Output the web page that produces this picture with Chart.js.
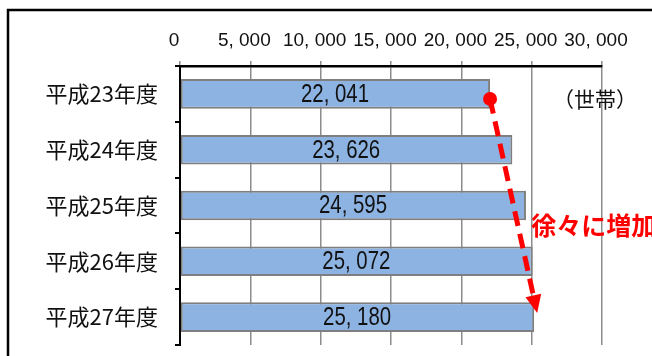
<!DOCTYPE html>
<html lang="ja">
<head>
<meta charset="utf-8">
<script src="https://cdn.jsdelivr.net/npm/chart.js@4/dist/chart.umd.min.js"></script>
<style>
  html, body { margin: 0; padding: 0; background: #fff; }
  canvas { display: block; }
</style>
</head>
<body>
<canvas id="chart" width="652" height="356"></canvas>
<script>
// --- Data ---
const categories = ['平成23年度', '平成24年度', '平成25年度', '平成26年度', '平成27年度'];
const households = [22041, 23626, 24595, 25072, 25180];
const axisMin = 0;
const axisMax = 30000;
const axisStep = 5000;
const unitLabel = '（世帯）';
const trendLabel = '徐々に増加';

const NUM_FONT = '"Liberation Sans Narrow", "Liberation Sans", "Noto Sans CJK JP", sans-serif';
const JP_FONT = '"Noto Sans CJK JP", "Noto Sans", sans-serif';

// "22041" -> "22, 041"
function fmt(v) {
    return Number(v).toLocaleString('en-US').replace(/,/g, ', ');
}

// --- Plugins ---
const framePlugin = {
    id: 'frame',
    beforeDraw(chart) {
        const ctx = chart.ctx;
        ctx.save();
        ctx.fillStyle = '#fff';
        ctx.fillRect(0, 0, chart.width, chart.height);
        ctx.strokeStyle = '#000';
        ctx.lineWidth = 2.5;
        ctx.strokeRect(8, 10, chart.width + 20, chart.height + 20);
        ctx.restore();
    }
};

const labelsPlugin = {
    id: 'labels',
    afterDatasetsDraw(chart) {
        const ctx = chart.ctx;
        const xs = chart.scales.x;
        const ys = chart.scales.y;
        ctx.save();

        // value labels centred in each bar
        ctx.font = '25px ' + NUM_FONT;
        ctx.fillStyle = '#111';
        ctx.textAlign = 'center';
        ctx.textBaseline = 'middle';
        chart.getDatasetMeta(0).data.forEach((bar, i) => {
            const x = (xs.getPixelForValue(0) + bar.x) / 2;
            ctx.fillText(fmt(households[i]), x, bar.y + 1, 68);
        });

        // unit
        ctx.font = '21px ' + JP_FONT;
        ctx.textAlign = 'left';
        ctx.fillStyle = '#111';
        ctx.fillText(unitLabel, 553, ys.getPixelForValue(0) + 5);

        // red trend arrow: from end of first bar to end of last bar
        const x0 = xs.getPixelForValue(households[0]);
        const y0 = ys.getPixelForValue(0) + 5;
        const x1 = xs.getPixelForValue(households[households.length - 1]) + 3;
        const y1 = ys.getPixelForValue(households.length - 1) - 4;
        const dx = x1 - x0, dy = y1 - y0;
        const len = Math.hypot(dx, dy);
        const ux = dx / len, uy = dy / len;
        const headLen = 18, headHalf = 8;
        const bx = x1 - ux * headLen, by = y1 - uy * headLen;

        ctx.strokeStyle = '#ff0000';
        ctx.fillStyle = '#ff0000';
        ctx.lineWidth = 5;
        ctx.setLineDash([15, 8]);
        ctx.beginPath();
        ctx.moveTo(x0, y0);
        ctx.lineTo(bx, by);
        ctx.stroke();
        ctx.setLineDash([]);

        ctx.beginPath();
        ctx.moveTo(x1, y1);
        ctx.lineTo(bx - uy * headHalf, by + ux * headHalf);
        ctx.lineTo(bx + uy * headHalf, by - ux * headHalf);
        ctx.closePath();
        ctx.fill();

        ctx.beginPath();
        ctx.arc(x0, y0, 7, 0, Math.PI * 2);
        ctx.fill();

        // trend text
        ctx.font = 'bold 25px ' + JP_FONT;
        ctx.textAlign = 'left';
        ctx.textBaseline = 'middle';
        ctx.fillText(trendLabel, x1 - 6, ys.getPixelForValue(2) + 20);

        ctx.restore();
    }
};

// --- Chart ---
new Chart(document.getElementById('chart'), {
    type: 'bar',
    data: {
        labels: categories,
        datasets: [{
            data: households,
            backgroundColor: '#8db3e2',
            borderColor: '#7f7f7f',
            borderWidth: 2,
            borderSkipped: false,
            categoryPercentage: 1,
            barPercentage: 0.53
        }]
    },
    options: {
        indexAxis: 'y',
        responsive: false,
        animation: false,
        devicePixelRatio: 1,
        layout: { padding: { left: 0, top: 0, right: 50, bottom: 11 } },
        plugins: {
            legend: { display: false },
            tooltip: { enabled: false }
        },
        scales: {
            x: {
                position: 'top',
                min: axisMin,
                max: axisMax,
                afterFit: s => { s.height = 66; s.paddingLeft = 0; s.paddingRight = 0; },
                ticks: {
                    stepSize: axisStep,
                    padding: 9,
                    labelOffset: -6,
                    color: '#111',
                    font: { family: NUM_FONT, size: 19 },
                    callback: v => fmt(v)
                },
                grid: { color: '#8c8c8c', lineWidth: 1.5, tickLength: 5 },
                border: { display: true, color: '#000', width: 2.5 }
            },
            y: {
                afterFit: s => { s.width = 180; s.paddingTop = 0; s.paddingBottom = 0; },
                ticks: {
                    padding: 17,
                    color: '#111',
                    font: { family: JP_FONT, size: 22 }
                },
                grid: {
                    drawOnChartArea: false,
                    color: '#000',
                    lineWidth: 2,
                    tickLength: 5
                },
                border: { display: true, color: '#000', width: 2 }
            }
        }
    },
    plugins: [framePlugin, labelsPlugin]
});
</script>
</body>
</html>
